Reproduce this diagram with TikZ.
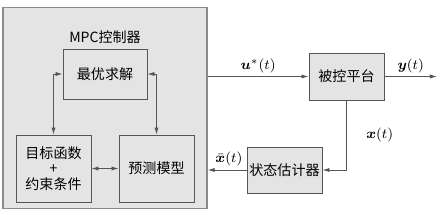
\documentclass[tikz,border=0pt]{standalone}
\usepackage{fontspec}
\usepackage{bm}
\setmainfont{Liberation Serif}
\newfontfamily\cjk{Noto Sans CJK SC}
\usetikzlibrary{arrows.meta}
\definecolor{bgray}{HTML}{E4E4E4}
\definecolor{lgray}{HTML}{8A8A8A}
\definecolor{dgray}{HTML}{555555}
\begin{document}
\begin{tikzpicture}[x=0.02cm,y=-0.02cm,
  blk/.style={draw=dgray,line width=0.5pt,fill=bgray,inner sep=0pt,font=\cjk\fontsize{8}{10}\selectfont},
  conn/.style={draw=dgray,line width=0.5pt,-{Latex[length=4pt,width=2.4pt]}},
  dconn/.style={draw=dgray,line width=0.5pt,{Latex[length=4pt,width=2.4pt]}-{Latex[length=4pt,width=2.4pt]}},
  lbl/.style={font=\fontsize{8}{10}\selectfont,inner sep=1pt}]
\useasboundingbox (0,0) rectangle (442,214);
\fill[white] (0,0) rectangle (442,214);
% outer MPC box
\node[draw=lgray,line width=0.8pt,fill=bgray,minimum width=204*0.02cm,minimum height=201*0.02cm,inner sep=0pt] (mpc) at (105,108) {};
\node[font=\cjk\fontsize{8}{10}\selectfont] (mpct) at (105,37) {MPC控制器};
\node[blk,minimum width=84*0.02cm,minimum height=50*0.02cm] (opt) at (105,74) {最优求解};
\node[blk,minimum width=75*0.02cm,minimum height=67*0.02cm,align=center] (obj) at (53.5,168.5) {目标函数\\[-1pt]+\\[-1pt]约束条件};
\node[blk,minimum width=75*0.02cm,minimum height=67*0.02cm] (pred) at (156.5,168.5) {预测模型};
\node[blk,minimum width=75*0.02cm,minimum height=47*0.02cm] (plant) at (346.5,76.5) {被控平台};
\node[blk,minimum width=75*0.02cm,minimum height=46*0.02cm] (est) at (284.5,170) {状态估计器};
\coordinate (yout) at (437,76.5);
% internal connectors
\draw[dconn] (opt.west) -| (obj.north);
\draw[dconn] (opt.east) -| (pred.north);
\draw[dconn] (obj.east) -- (pred.west);
% external
\draw[conn] (mpc.east |- plant.west) -- node[lbl,above=1pt] {$\bm{u}^{*}(t)$} (plant.west);
\draw[conn] (plant.east) -- node[lbl,above=1pt] {$\bm{y}(t)$} (yout);
\draw[conn] (plant.south) |- node[lbl,pos=0.25,right=10pt] {$\bm{x}(t)$} (est.east);
\draw[conn] (est.west) -- node[lbl,above=1pt,xshift=1pt] {$\bar{\bm{x}}(t)$} (mpc.east |- est.west);
\end{tikzpicture}
\end{document}
